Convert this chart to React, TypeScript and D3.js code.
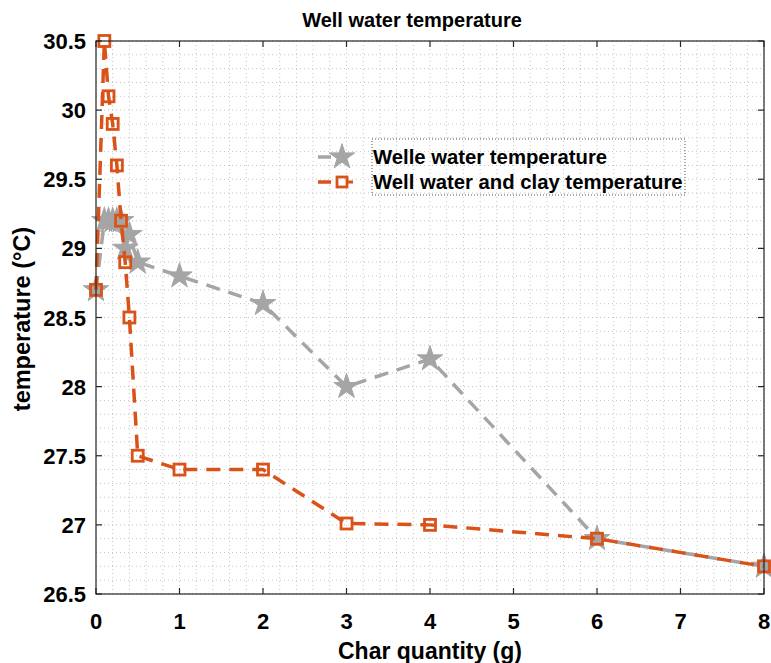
import React from "react";
import * as d3 from "d3";

const xGray = [0, 0.1, 0.15, 0.2, 0.25, 0.3, 0.35, 0.4, 0.5, 1, 2, 3, 4, 6, 8];
const yGray = [28.7, 29.2, 29.2, 29.2, 29.2, 29.2, 29.0, 29.1, 28.9, 28.8, 28.6, 28.0, 28.2, 26.9, 26.7];
const xOrange = [0, 0.1, 0.15, 0.2, 0.25, 0.3, 0.35, 0.4, 0.5, 1, 2, 3, 4, 6, 8];
const yOrange = [28.7, 30.5, 30.1, 29.9, 29.6, 29.2, 28.9, 28.5, 27.5, 27.4, 27.4, 27.01, 27.0, 26.9, 26.7];
const xTicks = [0, 1, 2, 3, 4, 5, 6, 7, 8];
const yTicks = [26.5, 27, 27.5, 28, 28.5, 29, 29.5, 30, 30.5];
const seriesNames = ["Welle water temperature", "Well water and clay temperature"];
const titleText = "Well water temperature";
const xLabel = "Char quantity (g)";
const yLabel = "temperature (°C)";

const W = 771, H = 663;
const L = 96, R = 764, T = 41, B = 594;
const GRAY = "#a5a5a5";
const ORANGE = "#d95319";
const FONT = "'Liberation Sans', Arial, sans-serif";

export default function App() {
  const x = d3.scaleLinear().domain([0, 8]).range([L, R]);
  const y = d3.scaleLinear().domain([26.5, 30.5]).range([B, T]);
  const xMinor = d3.range(0, 8.0001, 0.2);
  const yMinor = d3.range(26.5, 30.5001, 0.1);
  const line = d3.line<[number, number]>().x(d => x(d[0])).y(d => y(d[1]));
  const grayPts: [number, number][] = xGray.map((v, i) => [v, yGray[i]]);
  const orPts: [number, number][] = xOrange.map((v, i) => [v, yOrange[i]]);
  const star = d3.symbol().type(d3.symbolStar).size(200)();
  const legX = 318, legY1 = 157, legY2 = 182;
  const sq = 11;
  return (
    <svg width={W} height={H} style={{ position: "absolute", left: 0, top: 0, background: "#fff" }}>
      <rect x={0} y={0} width={W} height={H} fill="#fff" />
      {/* grid */}
      <g stroke="#c4c4c4" strokeWidth={1} strokeDasharray="1,3">
        {xMinor.map((v, i) => (
          <line key={"gx" + i} x1={x(v)} x2={x(v)} y1={T} y2={B} />
        ))}
        {yMinor.map((v, i) => (
          <line key={"gy" + i} x1={L} x2={R} y1={y(v)} y2={y(v)} />
        ))}
      </g>
      {/* legend dotted box */}
      <g stroke="#555" strokeWidth={1} strokeDasharray="1,2" fill="none">
        <rect x={372} y={139} width={313} height={56} />
      </g>
      {/* series */}
      <path d={line(grayPts) || ""} fill="none" stroke={GRAY} strokeWidth={3.5} strokeDasharray="14,9" />
      {grayPts.map((p, i) => (
        <path key={"s" + i} d={star || ""} transform={`translate(${x(p[0])},${y(p[1])})`} fill={GRAY} stroke={GRAY} strokeWidth={1} />
      ))}
      <path d={line(orPts) || ""} fill="none" stroke={ORANGE} strokeWidth={3.5} strokeDasharray="14,9" />
      {orPts.map((p, i) => (
        <rect key={"q" + i} x={x(p[0]) - sq / 2} y={y(p[1]) - sq / 2} width={sq} height={sq} fill="none" stroke={ORANGE} strokeWidth={2.8} />
      ))}
      {/* axes box */}
      <rect x={L} y={T} width={R - L} height={B - T} fill="none" stroke="#262626" strokeWidth={1.2} />
      <g stroke="#262626" strokeWidth={1.2}>
        {xTicks.map((v, i) => (
          <g key={"xt" + i}>
            <line x1={x(v)} x2={x(v)} y1={B} y2={B - 6} />
            <line x1={x(v)} x2={x(v)} y1={T} y2={T + 6} />
          </g>
        ))}
        {yTicks.map((v, i) => (
          <g key={"yt" + i}>
            <line x1={L} x2={L + 6} y1={y(v)} y2={y(v)} />
            <line x1={R} x2={R - 6} y1={y(v)} y2={y(v)} />
          </g>
        ))}
      </g>
      <g fontFamily={FONT} fontWeight="bold" fontSize={22} fill="#000">
        {xTicks.map((v, i) => (
          <text key={"xl" + i} x={x(v)} y={629} textAnchor="middle">{String(v)}</text>
        ))}
        {yTicks.map((v, i) => (
          <text key={"yl" + i} x={86} y={y(v) + 8} textAnchor="end">{String(v)}</text>
        ))}
      </g>
      <text x={412} y={27} textAnchor="middle" fontFamily={FONT} fontWeight="bold" fontSize={20}>{titleText}</text>
      <text x={430} y={659} textAnchor="middle" fontFamily={FONT} fontWeight="bold" fontSize={23}>{xLabel}</text>
      <text transform={`translate(30,319) rotate(-90)`} textAnchor="middle" fontFamily={FONT} fontWeight="bold" fontSize={23.5}>{yLabel}</text>
      {/* legend */}
      <g>
        <line x1={legX} x2={legX + 13} y1={legY1} y2={legY1} stroke={GRAY} strokeWidth={3.5} />
        <path d={star || ""} transform={`translate(${legX + 24},${legY1})`} fill={GRAY} stroke={GRAY} />
        <line x1={legX} x2={legX + 13} y1={legY2} y2={legY2} stroke={ORANGE} strokeWidth={3.5} />
        <rect x={legX + 19} y={legY2 - 5} width={10} height={10} fill="none" stroke={ORANGE} strokeWidth={2.8} />
        <line x1={legX + 29} x2={legX + 35} y1={legY2} y2={legY2} stroke={ORANGE} strokeWidth={3} />
        <text x={373} y={legY1 + 7} fontFamily={FONT} fontWeight="bold" fontSize={20.3}>{seriesNames[0]}</text>
        <text x={373} y={legY2 + 7} fontFamily={FONT} fontWeight="bold" fontSize={20.3}>{seriesNames[1]}</text>
      </g>
    </svg>
  );
}
